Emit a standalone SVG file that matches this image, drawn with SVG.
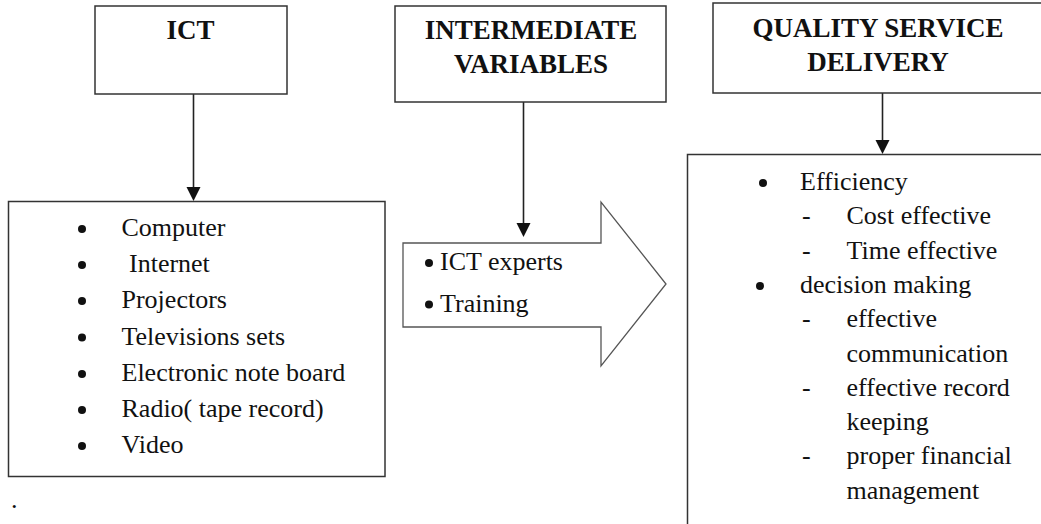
<svg xmlns="http://www.w3.org/2000/svg" width="1041" height="524" viewBox="0 0 1041 524">
<style>
.box{fill:#fff;stroke:#333;stroke-width:1.5}
.hd{font-family:"Liberation Serif","Times New Roman","DejaVu Serif",serif;font-weight:bold;font-size:27px;fill:#111;text-anchor:middle}
.t{font-family:"Liberation Serif","Times New Roman","DejaVu Serif",serif;font-size:26px;fill:#111}
.b{fill:#111}
.con{stroke:#222;stroke-width:1.6;fill:none}
</style>
<rect width="1041" height="524" fill="#fff"/>
<g id="connectors">
<line class="con" x1="193.5" y1="94" x2="193.5" y2="189"/>
<path d="M186.5,187 L200.5,187 L193.5,201 Z" fill="#111"/>
<line class="con" x1="523.5" y1="102" x2="523.5" y2="225"/>
<path d="M516.5,223 L530.5,223 L523.5,237 Z" fill="#111"/>
<line class="con" x1="882.5" y1="93" x2="882.5" y2="142"/>
<path d="M875.5,140 L889.5,140 L882.5,154 Z" fill="#111"/>
</g>
<g id="ict">
<rect class="box" x="95" y="6" width="192" height="88"/>
<text class="hd" x="190.5" y="39">ICT</text>
</g>
<g id="intermediate">
<rect class="box" x="395" y="6" width="271" height="96"/>
<text class="hd" x="531" y="39">INTERMEDIATE</text>
<text class="hd" x="531" y="73">VARIABLES</text>
</g>
<g id="quality">
<rect class="box" x="713" y="3" width="400" height="90"/>
<text class="hd" x="878" y="37">QUALITY SERVICE</text>
<text class="hd" x="878" y="71">DELIVERY</text>
</g>
<g id="ict-list">
<rect class="box" x="8.5" y="201.5" width="376.5" height="275"/>
<circle class="b" cx="82" cy="229" r="4"/><text class="t" x="121.5" y="236">Computer</text>
<circle class="b" cx="82" cy="265" r="4"/><text class="t" x="129" y="272">Internet</text>
<circle class="b" cx="82" cy="301" r="4"/><text class="t" x="121.5" y="308">Projectors</text>
<circle class="b" cx="82" cy="337.5" r="4"/><text class="t" x="121.5" y="344.5">Televisions sets</text>
<circle class="b" cx="82" cy="374" r="4"/><text class="t" x="121.5" y="381">Electronic note board</text>
<circle class="b" cx="82" cy="410" r="4"/><text class="t" x="121.5" y="417">Radio( tape record)</text>
<circle class="b" cx="82" cy="446" r="4"/><text class="t" x="121.5" y="453">Video</text>
</g>
<g id="intermediate-arrow">
<path d="M403,243 L601,243 L601,202 L666,284 L601,366 L601,327 L403,327 Z" fill="#fff" stroke="#555" stroke-width="1.3"/>
<circle class="b" cx="429" cy="263" r="4"/><text class="t" x="440" y="270">ICT experts</text>
<circle class="b" cx="429" cy="304.5" r="4"/><text class="t" x="440" y="311.5">Training</text>
</g>
<g id="quality-list">
<path d="M1045,154.5 L687.5,154.5 L687.5,530" fill="#fff" stroke="#333" stroke-width="1.5"/>
<circle class="b" cx="763" cy="183" r="4"/><text class="t" x="800" y="190">Efficiency</text>
<text class="t" x="802" y="224.3">-</text><text class="t" x="846.5" y="224.3">Cost effective</text>
<text class="t" x="802" y="258.6">-</text><text class="t" x="846.5" y="258.6">Time effective</text>
<circle class="b" cx="760" cy="286" r="4"/><text class="t" x="800" y="293">decision making</text>
<text class="t" x="802" y="327.2">-</text><text class="t" x="846.5" y="327.2">effective</text>
<text class="t" x="846.5" y="361.5">communication</text>
<text class="t" x="802" y="395.8">-</text><text class="t" x="846.5" y="395.8">effective record</text>
<text class="t" x="846.5" y="430.1">keeping</text>
<text class="t" x="802" y="464.4">-</text><text class="t" x="846.5" y="464.4">proper financial</text>
<text class="t" x="846.5" y="498.7">management</text>
</g>
<text class="t" x="11" y="508">.</text>
</svg>
